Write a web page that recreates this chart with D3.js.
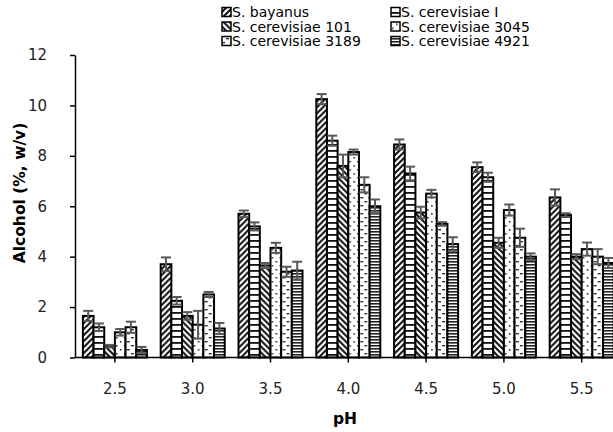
<!DOCTYPE html>
<html>
<head>
<meta charset="utf-8">
<script src="https://cdn.jsdelivr.net/npm/d3@7"></script>
<style>
  body { margin: 0; background: #fff; }
  svg { display: block; font-family: "DejaVu Sans", sans-serif; }
</style>
</head>
<body>
<div id="chart"></div>
<script>
// pH levels on the x axis
const phLevels = ['2.5', '3.0', '3.5', '4.0', '4.5', '5.0', '5.5'];

// yeast strains (legend order)
const strains = [
  'S. bayanus', 'S. cerevisiae I',
  'S. cerevisiae 101', 'S. cerevisiae 3045',
  'S. cerevisiae 3189', 'S. cerevisiae 4921'
];

// alcohol (%, w/v) per strain, one value per pH level
const bayanus  = [1.65, 3.7, 5.7, 10.25, 8.45, 7.55, 6.35];
const cerevI   = [1.2, 2.25, 5.2, 8.6, 7.3, 7.15, 5.65];
const cerev101 = [0.45, 1.65, 3.65, 7.6, 5.75, 4.55, 4.0];
const cerev3045 = [1.0, 1.3, 4.35, 8.15, 6.5, 5.85, 4.3];
const cerev3189 = [1.2, 2.5, 3.4, 6.85, 5.3, 4.75, 4.0];
const cerev4921 = [0.3, 1.15, 3.45, 6.0, 4.5, 4.0, 3.75];

// standard deviations (error bars)
const errBayanus  = [0.2, 0.27, 0.13, 0.2, 0.2, 0.19, 0.32];
const errCerevI   = [0.15, 0.15, 0.16, 0.2, 0.27, 0.18, 0.07];
const errCerev101 = [0.05, 0.15, 0.1, 0.45, 0.23, 0.2, 0.1];
const errCerev3045 = [0.13, 0.55, 0.2, 0.1, 0.15, 0.22, 0.26];
const errCerev3189 = [0.22, 0.1, 0.2, 0.3, 0.07, 0.36, 0.3];
const errCerev4921 = [0.12, 0.22, 0.35, 0.27, 0.27, 0.13, 0.2];

const yTicks = [0, 2, 4, 6, 8, 10, 12];

const seriesValues = [bayanus, cerevI, cerev101, cerev3045, cerev3189, cerev4921];
const seriesErrors = [errBayanus, errCerevI, errCerev101, errCerev3045, errCerev3189, errCerev4921];

const width = 613, height = 432;
const margin = { left: 76, bottom: 357.5, top: 55 };

const svg = d3.select('#chart').append('svg')
  .attr('width', width)
  .attr('height', height);

// Excel-like fill patterns, one per strain
const defs = svg.append('defs');
function makePattern(id, w, h, draw) {
  const p = defs.append('pattern')
    .attr('id', id)
    .attr('patternUnits', 'userSpaceOnUse')
    .attr('width', w)
    .attr('height', h);
  p.append('rect').attr('width', w).attr('height', h).attr('fill', '#fff');
  draw(p);
}
makePattern('pat0', 6, 6, p => p.append('path')
  .attr('d', 'M-1.5,1.5 L1.5,-1.5 M0,6 L6,0 M4.5,7.5 L7.5,4.5')
  .attr('stroke', '#111').attr('stroke-width', 2));
makePattern('pat1', 6, 6, p => p.append('rect')
  .attr('y', 0).attr('width', 6).attr('height', 1.8).attr('fill', '#111'));
makePattern('pat2', 6, 6, p => p.append('path')
  .attr('d', 'M-1.5,4.5 L1.5,7.5 M0,0 L6,6 M4.5,-1.5 L7.5,1.5')
  .attr('stroke', '#111').attr('stroke-width', 2));
makePattern('pat3', 8, 8, p => {
  p.append('rect').attr('x', 1).attr('y', 1).attr('width', 1.6).attr('height', 1.6).attr('fill', '#333');
  p.append('rect').attr('x', 5).attr('y', 5).attr('width', 1.6).attr('height', 1.6).attr('fill', '#333');
});
makePattern('pat4', 8, 8, p => {
  p.append('rect').attr('x', 0).attr('y', 1).attr('width', 3).attr('height', 1.4).attr('fill', '#333');
  p.append('rect').attr('x', 4).attr('y', 5).attr('width', 3).attr('height', 1.4).attr('fill', '#333');
});
makePattern('pat5', 3, 3, p => p.append('rect')
  .attr('y', 0).attr('width', 3).attr('height', 1.6).attr('fill', '#222'));

// scales
const step = 77.8;
const x = d3.scaleBand()
  .domain(phLevels)
  .range([margin.left, margin.left + step * phLevels.length])
  .paddingInner(0.177)
  .paddingOuter(0.0885);

const xSeries = d3.scaleBand()
  .domain(d3.range(strains.length))
  .range([0, x.bandwidth()]);

const y = d3.scaleLinear()
  .domain([0, 12])
  .range([margin.bottom, margin.top]);

// bars
const groups = svg.append('g').selectAll('g')
  .data(phLevels)
  .join('g')
  .attr('transform', d => `translate(${x(d)},0)`);

groups.selectAll('rect')
  .data((d, i) => seriesValues.map((vals, s) => ({ s, v: vals[i], e: seriesErrors[s][i] })))
  .join('rect')
  .attr('x', d => xSeries(d.s))
  .attr('y', d => y(d.v))
  .attr('width', xSeries.bandwidth())
  .attr('height', d => y(0) - y(d.v))
  .attr('fill', d => `url(#pat${d.s})`)
  .attr('stroke', '#000')
  .attr('stroke-width', 2);

// error bars
const errG = groups.selectAll('g.err')
  .data((d, i) => seriesValues.map((vals, s) => ({ s, v: vals[i], e: seriesErrors[s][i] })))
  .join('g')
  .attr('class', 'err')
  .attr('stroke', '#595959')
  .attr('stroke-width', 2);
const cx = d => xSeries(d.s) + xSeries.bandwidth() / 2;
errG.append('line')
  .attr('x1', cx).attr('x2', cx)
  .attr('y1', d => y(d.v - d.e)).attr('y2', d => y(d.v + d.e));
errG.append('line')
  .attr('x1', d => cx(d) - 5).attr('x2', d => cx(d) + 5)
  .attr('y1', d => y(d.v + d.e)).attr('y2', d => y(d.v + d.e));
errG.append('line')
  .attr('x1', d => cx(d) - 5).attr('x2', d => cx(d) + 5)
  .attr('y1', d => y(d.v - d.e)).attr('y2', d => y(d.v - d.e));

// axes
const yAxis = svg.append('g')
  .attr('transform', `translate(${margin.left - 1},0)`)
  .call(d3.axisLeft(y).tickValues(yTicks).tickSize(5).tickSizeOuter(0).tickPadding(23));
yAxis.selectAll('line, path').attr('stroke', '#000').attr('stroke-width', 1.5);

const xAxis = svg.append('g')
  .attr('transform', `translate(0,${margin.bottom})`)
  .call(d3.axisBottom(x).tickSize(5).tickSizeOuter(0).tickPadding(21));
xAxis.select('path').attr('d', `M${margin.left - 1},0H${width + 10}`);
xAxis.selectAll('line, path').attr('stroke', '#000').attr('stroke-width', 1.5);

[yAxis, xAxis].forEach(ax => ax
  .attr('font-family', null)
  .attr('font-size', 15)
  .selectAll('text')
  .attr('fill', '#222'));

// axis titles
svg.append('text')
  .attr('transform', 'translate(25,193) rotate(-90)')
  .attr('text-anchor', 'middle')
  .attr('font-size', 15.5)
  .attr('font-weight', 'bold')
  .text('Alcohol (%, w/v)');

svg.append('text')
  .attr('x', 345)
  .attr('y', 424)
  .attr('text-anchor', 'middle')
  .attr('font-size', 15.5)
  .attr('font-weight', 'bold')
  .text('pH');

// legend: two columns, three rows
const legend = svg.append('g').selectAll('g')
  .data(strains)
  .join('g')
  .attr('transform', (d, i) => `translate(${i % 2 === 0 ? 222 : 391},${12 + Math.floor(i / 2) * 14.5})`);
legend.append('rect')
  .attr('x', 0).attr('y', -4.5)
  .attr('width', 9).attr('height', 9)
  .attr('fill', (d, i) => `url(#pat${i})`)
  .attr('stroke', '#000')
  .attr('stroke-width', 1.5);
legend.append('text')
  .attr('x', 10)
  .attr('dy', '0.36em')
  .attr('font-size', 14)
  .attr('fill', '#000')
  .text(d => d);
</script>
</body>
</html>
